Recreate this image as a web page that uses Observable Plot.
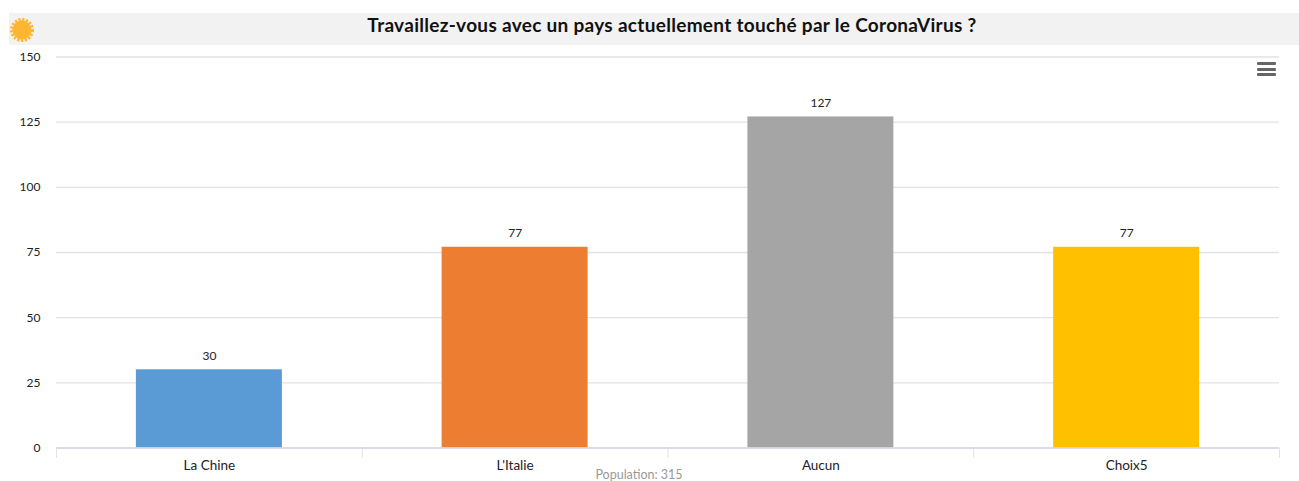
<!DOCTYPE html>
<html lang="fr">
<head>
<meta charset="utf-8">
<script src="https://cdn.jsdelivr.net/npm/d3@7"></script>
<script src="https://cdn.jsdelivr.net/npm/@observablehq/plot@0.6"></script>
<style>
html,body{margin:0;padding:0;background:#fff;overflow:hidden}
#wrap{position:relative;width:1299px;height:481px;font-family:Lato,sans-serif}
#band{position:absolute;left:9px;top:13px;width:1290px;height:32px;background:#f2f2f2}
#title{position:absolute;left:0;top:12px;width:1344px;height:26px;line-height:26px;text-align:center;font-size:19px;letter-spacing:.3px;font-weight:700;color:#111;margin:0}
#sun{position:absolute;left:9px;top:17px}
#menu{position:absolute;left:1257px;top:62px;width:19px}
#menu div{height:3px;background:#666;margin-bottom:2.5px;border-radius:1px}
#chart{position:absolute;left:0;top:0}
#chart svg{background:transparent!important}
#pop{position:absolute;left:0;width:1278px;top:469px;height:12px;line-height:12px;text-align:center;font-size:12.5px;color:#999}
</style>
</head>
<body>
<div id="wrap">
  <div id="band"></div>
  <div id="chart"></div>
  <svg id="sun" width="26" height="26" viewBox="0 0 26 26"><circle cx="13" cy="13" r="9.5" fill="#fdb62f"/><circle cx="13" cy="13" r="10.5" fill="none" stroke="#fdb62f" stroke-width="3" stroke-dasharray="2.2 1.6"/></svg>
  <h1 id="title">Travaillez-vous avec un pays actuellement touché par le CoronaVirus ?</h1>
  <div id="menu"><div></div><div></div><div></div></div>
  <div id="pop">Population: 315</div>
</div>
<script>
const categories = ["La Chine", "L'Italie", "Aucun", "Choix5"];
const counts = [30, 77, 127, 77];
const barColors = ["#5b9bd5", "#ed7d31", "#a5a5a5", "#ffc000"];
const yTicks = [0, 25, 50, 75, 100, 125, 150];
const rows = categories.map((category, i) => ({category, count: counts[i]}));

const chartWidth = 1299, left = 56, right = 20;
const step = (chartWidth - left - right) / categories.length;
const textColor = "#222", gridColor = "#e2e2e2";

const chart = Plot.plot({
  width: chartWidth,
  height: 481,
  marginLeft: left,
  marginRight: right,
  marginTop: 56.5,
  marginBottom: 33.5,
  style: {fontFamily: "Lato, sans-serif", fontSize: "12px", color: textColor, background: "transparent"},
  x: {domain: categories, paddingInner: 0.5225, paddingOuter: 0.26125, align: 0.5, round: false, label: null},
  y: {domain: [0, 150], label: null},
  color: {domain: categories, range: barColors},
  marks: [
    Plot.gridY(yTicks, {stroke: gridColor, strokeOpacity: 1, strokeWidth: 1.4}),
    Plot.barY(rows, {x: "category", y: "count", fill: "category"}),
    Plot.text(rows, {x: "category", y: "count", text: d => String(d.count), dy: -14, fill: textColor, fontSize: 12}),
    Plot.axisY({ticks: yTicks, tickSize: 0, tickPadding: 16, fill: textColor, label: null}),
    Plot.axisX({tickSize: 0, tickPadding: 12, fill: textColor, fontSize: 13.5, label: null}),
    Plot.axisX(categories, {tickSize: 10, dx: -step / 2, stroke: gridColor, strokeOpacity: 1, tickFormat: () => "", label: null}),
    Plot.axisX(categories.slice(-1), {tickSize: 10, dx: step / 2, stroke: gridColor, strokeOpacity: 1, tickFormat: () => "", label: null}),
    Plot.ruleY([0], {stroke: "#d5d8e0", strokeWidth: 1.4})
  ]
});
document.getElementById("chart").appendChild(chart);
</script>
</body>
</html>
